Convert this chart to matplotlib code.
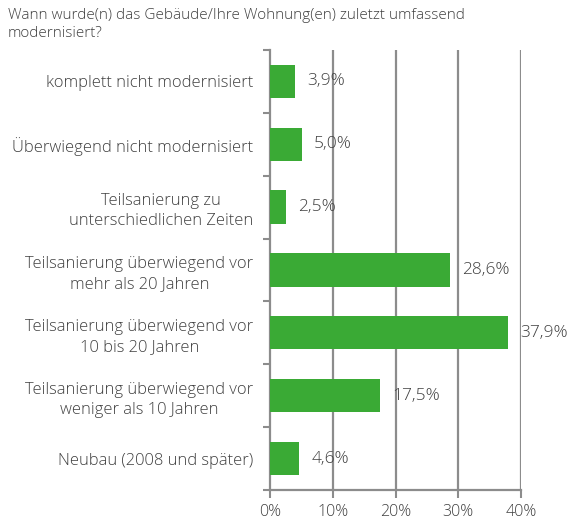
import numpy as np
import matplotlib.pyplot as plt
from matplotlib.ticker import FixedLocator

# Data
categories = ["komplett nicht modernisiert",
              "Überwiegend nicht modernisiert",
              "Teilsanierung zu\nunterschiedlichen Zeiten",
              "Teilsanierung überwiegend vor\nmehr als 20 Jahren",
              "Teilsanierung überwiegend vor\n10 bis 20 Jahren",
              "Teilsanierung überwiegend vor\nweniger als 10 Jahren",
              "Neubau (2008 und später)"]
values = [3.9, 5.0, 2.5, 28.6, 37.9, 17.5, 4.6]
value_labels = ["3,9%", "5,0%", "2,5%", "28,6%", "37,9%", "17,5%", "4,6%"]
x_ticks = [0, 10, 20, 30, 40]
x_tick_labels = ["0%", "10%", "20%", "30%", "40%"]
title = "Wann wurde(n) das Gebäude/Ihre Wohnung(en) zuletzt umfassend\nmodernisiert?"

plt.rcParams['font.family'] = ['Open Sans', 'DejaVu Sans']
plt.rcParams['font.weight'] = 'light'
text_color = "#404040"
grid_color = "#8c8c8c"
bar_color = "#3aaa35"

fig = plt.figure(figsize=(5.76, 5.2), dpi=100)
ax = fig.add_axes([0.469, 0.0577, 0.4355, 0.8463])

y = np.arange(len(categories))
ax.barh(y, values, height=0.53, color=bar_color, zorder=3)
ax.set_ylim(len(categories) - 0.5, -0.5)
ax.set_xlim(0, 40)

for yi, v, lab in zip(y, values, value_labels):
    ax.annotate(lab, (v, yi), xytext=(9, 0), textcoords="offset points",
                va="center", ha="left", fontsize=12.5, color=text_color, zorder=4)

ax.set_yticks(y)
ax.set_yticklabels(categories, fontsize=11.9, color=text_color, ha="right",
                   multialignment="center", linespacing=1.35)
ax.tick_params(axis="y", which="major", length=0, pad=12)
ax.yaxis.set_minor_locator(FixedLocator(np.arange(-0.5, len(categories), 1.0)))
ax.tick_params(axis="y", which="minor", length=5, width=1.5, color=grid_color)

ax.set_xticks(x_ticks)
ax.set_xticklabels(x_tick_labels, fontsize=11.5, color=text_color)
ax.tick_params(axis="x", length=6, width=1.5, color=grid_color, pad=4)

for xv in x_ticks[1:]:
    ax.axvline(xv, color=grid_color, lw=1.6, zorder=1)

for side in ["top", "right"]:
    ax.spines[side].set_visible(False)
for side in ["left", "bottom"]:
    ax.spines[side].set_color(grid_color)
    ax.spines[side].set_linewidth(1.6)

fig.text(0.014, 0.985, title, ha="left", va="top", fontsize=11, color=text_color,
         linespacing=1.25)

fig.savefig("out.png", dpi=100)
